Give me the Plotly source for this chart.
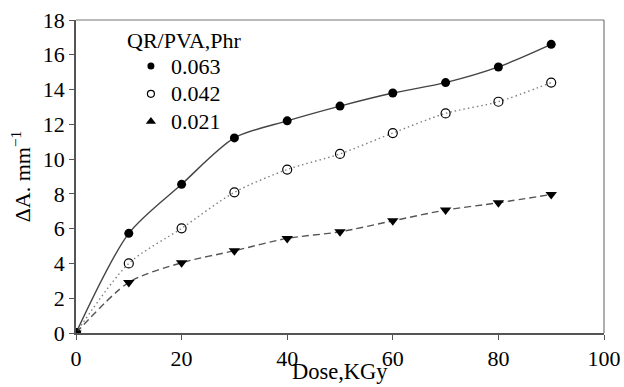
import plotly.graph_objects as go

dose = [0, 10, 20, 30, 40, 50, 60, 70, 80, 90]
s063 = [0, 5.73, 8.55, 11.22, 12.2, 13.05, 13.8, 14.4, 15.3, 16.6]
s042 = [0, 4.0, 6.02, 8.09, 9.4, 10.3, 11.5, 12.63, 13.3, 14.4]
s021 = [0, 2.91, 4.04, 4.73, 5.44, 5.82, 6.45, 7.07, 7.49, 7.97]
names = ["0.063", "0.042", "0.021"]
legend_title = "QR/PVA,Phr"
x_title = "Dose,KGy"
y_title = "ΔA. mm<sup>−1</sup>"

FONT = "Times New Roman"
fig = go.Figure()

fig.add_trace(go.Scatter(x=dose, y=s063, mode="lines+markers", showlegend=False,
    line=dict(color="#444444", width=1.4, shape="spline", smoothing=0.8, dash="solid"),
    marker=dict(symbol="circle", size=9, color="black")))
fig.add_trace(go.Scatter(x=dose, y=s042, mode="lines+markers", showlegend=False,
    line=dict(color="#808080", width=1.4, shape="spline", smoothing=0.8, dash="1.5px,3px"),
    marker=dict(symbol="circle-open", size=9, color="black", line=dict(width=1.2))))
fig.add_trace(go.Scatter(x=dose, y=s021, mode="lines+markers", showlegend=False,
    line=dict(color="#555555", width=1.4, shape="spline", smoothing=0.8, dash="7px,4px"),
    marker=dict(symbol="triangle-down", size=10, color="black")))

def big(t):
    return '<span style="font-size:22px">' + t + '</span>'

fig.add_trace(go.Scatter(x=[None], y=[None], mode="markers", name=big(names[0]),
    marker=dict(symbol="circle", size=7, color="black")))
fig.add_trace(go.Scatter(x=[None], y=[None], mode="markers", name=big(names[1]),
    marker=dict(symbol="circle-open", size=7, color="black", line=dict(width=1.2))))
fig.add_trace(go.Scatter(x=[None], y=[None], mode="markers", name=big(names[2]),
    marker=dict(symbol="triangle-up", size=9, color="black")))

fig.update_layout(
    width=624, height=387,
    margin=dict(l=76, r=20, t=20, b=54),
    paper_bgcolor="white", plot_bgcolor="white",
    font=dict(family=FONT, color="black", size=22),
    legend=dict(x=0.104, y=0.913, xanchor="left", yanchor="top",
                bgcolor="rgba(0,0,0,0)", font=dict(family=FONT, size=19, color="black"),
                tracegroupgap=0, itemwidth=30),
    shapes=[dict(type="line", xref="paper", yref="paper", x0=0, x1=1, y0=1, y1=1,
                 line=dict(color="#777777", width=1.2)),
            dict(type="line", xref="paper", yref="paper", x0=1, x1=1, y0=0, y1=1,
                 line=dict(color="#777777", width=1.2))],
    annotations=[
        dict(text=legend_title, xref="paper", yref="paper", x=0.206, y=0.936,
             xanchor="center", yanchor="middle", showarrow=False,
             font=dict(family=FONT, size=22, color="black")),
        dict(text=x_title, xref="paper", yref="paper", x=0.5, y=-0.122,
             xanchor="center", yanchor="middle", showarrow=False,
             font=dict(family=FONT, size=22.5, color="black")),
    ],
)
fig.update_xaxes(range=[0, 100], dtick=20, showline=True, linecolor="#555555", linewidth=1.5,
                 ticks="outside", ticklen=5, tickcolor="#555555", showgrid=False, zeroline=False,
                 ticklabelstandoff=0, automargin=False,
                 tickfont=dict(family=FONT, size=22, color="black"))
fig.update_yaxes(range=[0, 18], dtick=2, showline=True, linecolor="#555555", linewidth=1.5,
                 ticks="outside", ticklen=5, tickcolor="#555555", showgrid=False, zeroline=False,
                 automargin=False,
                 tickfont=dict(family=FONT, size=22, color="black"),
                 title=dict(text=y_title, font=dict(family=FONT, size=22), standoff=6))

fig.write_html("out.html")
